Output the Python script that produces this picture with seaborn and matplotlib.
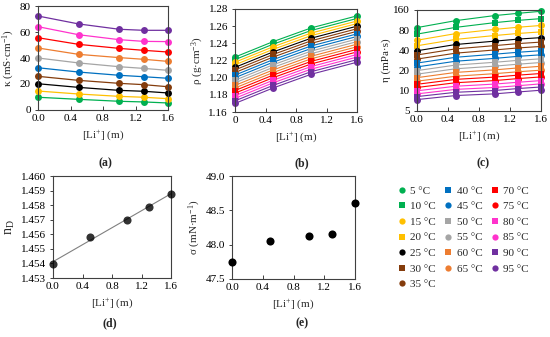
import matplotlib
matplotlib.use("Agg")
import matplotlib.pyplot as plt
import seaborn as sns
import numpy as np
import pandas as pd
from matplotlib.lines import Line2D
from matplotlib.ticker import FixedLocator, FormatStrFormatter, NullLocator, FixedFormatter

# ---------------- data ----------------
temps = [5, 10, 15, 20, 25, 30, 35, 40, 45, 50, 55, 60, 65, 70, 75, 80, 85, 90, 95]
colors = ["#00B050", "#00B050", "#FFC000", "#FFC000", "#000000", "#843C0C", "#843C0C",
          "#0070C0", "#0070C0", "#A5A5A5", "#A5A5A5", "#ED7D31", "#ED7D31", "#FF0000",
          "#FF0000", "#FF33CC", "#FF33CC", "#7030A0", "#7030A0"]
markers = ["o", "s", "o", "s", "o", "s", "o", "s", "o", "s", "o", "s", "o", "s", "o", "s", "o", "s", "o"]

# (a) conductivity, odd temperatures
li_a = [0.0, 0.5, 1.0, 1.3, 1.6]
temps_a = [5, 15, 25, 35, 45, 55, 65, 75, 85, 95]
kappa = {
    5:  [9.8, 8.2, 6.7, 6.2, 5.4],
    15: [14.6, 12.3, 10.5, 9.8, 8.7],
    25: [20.2, 17.4, 15.1, 14.4, 13.1],
    35: [25.9, 22.8, 20.5, 19.5, 17.9],
    45: [32.5, 29.2, 26.7, 25.6, 24.4],
    55: [40.0, 36.2, 33.3, 32.0, 30.5],
    65: [47.7, 42.8, 40.3, 39.0, 37.4],
    75: [55.6, 50.5, 47.4, 45.9, 44.6],
    85: [64.1, 57.9, 54.1, 52.8, 52.6],
    95: [72.3, 66.2, 62.1, 61.3, 61.3],
}

# (b) density
li_b = [0.0, 0.5, 1.0, 1.6]
rho = {
    5:  [1.224, 1.242, 1.258, 1.272],
    10: [1.221, 1.239, 1.255, 1.269],
    15: [1.218, 1.236, 1.252, 1.266],
    20: [1.215, 1.233, 1.249, 1.263],
    25: [1.212, 1.230, 1.246, 1.260],
    30: [1.209, 1.227, 1.243, 1.257],
    35: [1.206, 1.224, 1.240, 1.254],
    40: [1.203, 1.221, 1.237, 1.251],
    45: [1.200, 1.218, 1.234, 1.248],
    50: [1.197, 1.215, 1.231, 1.245],
    55: [1.194, 1.212, 1.228, 1.242],
    60: [1.191, 1.209, 1.225, 1.239],
    65: [1.188, 1.206, 1.222, 1.236],
    70: [1.185, 1.203, 1.219, 1.233],
    75: [1.182, 1.200, 1.216, 1.230],
    80: [1.179, 1.197, 1.213, 1.227],
    85: [1.176, 1.194, 1.210, 1.224],
    90: [1.173, 1.191, 1.207, 1.221],
    95: [1.170, 1.188, 1.204, 1.218],
}

# (c) viscosity
li_c = [0.0, 0.5, 1.0, 1.3, 1.6]
eta = {
    5:  [87.5, 111.1, 132.1, 142.6, 153.1],
    10: [70.0, 88.2, 103.6, 112.0, 119.0],
    15: [56.7, 71.2, 82.2, 88.5, 94.1],
    20: [46.9, 58.4, 66.6, 71.5, 75.5],
    25: [39.5, 49.0, 54.9, 58.9, 62.0],
    30: [34.2, 42.2, 47.1, 50.5, 53.2],
    35: [29.7, 36.4, 40.6, 43.5, 45.8],
    40: [25.9, 31.6, 35.1, 37.5, 39.6],
    45: [22.7, 27.6, 30.4, 32.6, 34.4],
    50: [20.0, 24.2, 26.6, 28.4, 30.0],
    55: [17.7, 21.3, 23.3, 24.9, 26.4],
    60: [15.7, 18.8, 20.5, 21.9, 23.2],
    65: [13.9, 16.5, 18.0, 19.2, 20.3],
    70: [12.5, 14.8, 16.0, 17.1, 18.1],
    75: [11.2, 13.2, 14.2, 15.2, 16.1],
    80: [10.0, 11.7, 12.6, 13.4, 14.2],
    85: [9.0, 10.5, 11.2, 11.9, 12.7],
    90: [8.2, 9.5, 10.1, 10.8, 11.4],
    95: [7.4, 8.5, 9.0, 9.6, 10.2],
}

# (d) refractive index, (e) surface tension
li_de = [0.0, 0.5, 1.0, 1.3, 1.6]
n_d = [1.45396, 1.45584, 1.45698, 1.45789, 1.45875]
sigma = [47.75, 48.06, 48.13, 48.15, 48.61]

# ---------------- style ----------------
sns.set_theme(style="ticks")
plt.rcParams["font.family"] = ["Liberation Serif", "DejaVu Serif"]
plt.rcParams["mathtext.fontset"] = "custom"
plt.rcParams["mathtext.rm"] = "Liberation Serif"
plt.rcParams["mathtext.it"] = "Liberation Serif:italic"
plt.rcParams["mathtext.bf"] = "Liberation Serif:bold"
FS = 8
SPINE = "#404040"

pal = dict(zip(temps, colors))
mk = dict(zip(temps, markers))

W, H = 550, 337
fig = plt.figure(figsize=(W / 100, H / 100), dpi=100)


def add_ax(l, r, t, b):
    return fig.add_axes([l / W, 1 - b / H, (r - l) / W, (b - t) / H])


def style_ax(ax):
    for s in ax.spines.values():
        s.set_color(SPINE)
        s.set_linewidth(0.8)
        s.set_visible(True)
    ax.tick_params(axis="both", labelsize=FS, colors=SPINE, labelcolor="black",
                   length=3, width=0.7, direction="in", pad=3)
    ax.tick_params(axis="y", direction="out", length=2)
    ax.set_facecolor("white")


def long_df(xs, d):
    rows = []
    for t, vals in d.items():
        for x, v in zip(xs, vals):
            rows.append((t, x, v))
    return pd.DataFrame(rows, columns=["T", "Li", "val"])


xlab = r"[Li$^{+}$] (m)"

# (a)
ax_a = add_ax(38, 168, 6, 110)
dfa = long_df(li_a, kappa)
sns.lineplot(data=dfa, x="Li", y="val", hue="T", palette={t: pal[t] for t in temps_a},
             marker="o", markersize=5, markeredgewidth=0, linewidth=0.9,
             estimator=None, legend=False, ax=ax_a, clip_on=False)
ax_a.set_xlim(0, 1.6)
ax_a.set_ylim(0, 80)
ax_a.xaxis.set_major_locator(FixedLocator([0, 0.4, 0.8, 1.2, 1.6]))
ax_a.xaxis.set_major_formatter(FormatStrFormatter("%.1f"))
ax_a.yaxis.set_major_locator(FixedLocator([0, 20, 40, 60, 80]))
ax_a.set_xlabel(xlab, fontsize=FS)
ax_a.set_ylabel(r"κ (mS·cm$^{-1}$)", fontsize=FS, labelpad=2)
style_ax(ax_a)

# (b)
ax_b = add_ax(235, 357, 9, 112)
dfb = long_df(li_b, rho)
sns.lineplot(data=dfb, x="Li", y="val", hue="T", style="T", palette=pal, markers=mk,
             dashes=False, markersize=5, markeredgewidth=0, linewidth=0.8,
             estimator=None, legend=False, ax=ax_b, clip_on=False)
ax_b.set_xlim(0, 1.6)
ax_b.set_ylim(1.16, 1.28)
ax_b.xaxis.set_major_locator(FixedLocator([0, 0.4, 0.8, 1.2, 1.6]))
ax_b.xaxis.set_major_formatter(FixedFormatter(["0", "0.4", "0.8", "1.2", "1.6"]))
ax_b.yaxis.set_major_locator(FixedLocator([1.16, 1.18, 1.20, 1.22, 1.24, 1.26, 1.28]))
ax_b.yaxis.set_major_formatter(FormatStrFormatter("%.2f"))
ax_b.set_xlabel(xlab, fontsize=FS)
ax_b.set_ylabel(r"ρ (g·cm$^{-3}$)", fontsize=FS, labelpad=2)
style_ax(ax_b)

# (c)
ax_c = add_ax(417, 541, 10, 111)
dfc = long_df(li_c, eta)
sns.lineplot(data=dfc, x="Li", y="val", hue="T", style="T", palette=pal, markers=mk,
             dashes=False, markersize=5, markeredgewidth=0, linewidth=0.8,
             estimator=None, legend=False, ax=ax_c, clip_on=False)
ax_c.set_yscale("log", base=2)
ax_c.set_xlim(0, 1.6)
ax_c.set_ylim(5, 160)
ax_c.xaxis.set_major_locator(FixedLocator([0, 0.4, 0.8, 1.2, 1.6]))
ax_c.xaxis.set_major_formatter(FormatStrFormatter("%.1f"))
ax_c.yaxis.set_major_locator(FixedLocator([5, 10, 20, 40, 80, 160]))
ax_c.yaxis.set_major_formatter(FormatStrFormatter("%d"))
ax_c.yaxis.set_minor_locator(NullLocator())
ax_c.set_xlabel(xlab, fontsize=FS)
ax_c.set_ylabel("η (mPa·s)", fontsize=FS, labelpad=2)
style_ax(ax_c)

# (d)
ax_d = add_ax(53, 171, 176, 278)
sns.regplot(x=li_de, y=n_d, ci=None, ax=ax_d,
            scatter_kws=dict(s=34, color="black", linewidths=0, zorder=3, clip_on=False),
            line_kws=dict(color="#808080", linewidth=0.8, zorder=2))
ax_d.set_xlim(0, 1.6)
ax_d.set_ylim(1.453, 1.460)
ax_d.xaxis.set_major_locator(FixedLocator([0, 0.4, 0.8, 1.2, 1.6]))
ax_d.xaxis.set_major_formatter(FormatStrFormatter("%.1f"))
ax_d.yaxis.set_major_locator(FixedLocator([1.453, 1.454, 1.455, 1.456, 1.457, 1.458, 1.459, 1.460]))
ax_d.yaxis.set_major_formatter(FormatStrFormatter("%.3f"))
ax_d.set_xlabel(xlab, fontsize=FS)
ax_d.set_ylabel(r"n$_{\mathrm{D}}$", fontsize=FS + 2, labelpad=3)
style_ax(ax_d)

# (e)
ax_e = add_ax(232, 355, 176, 279)
sns.scatterplot(x=li_de, y=sigma, ax=ax_e, s=34, color="black", linewidth=0, clip_on=False, zorder=3)
ax_e.set_xlim(0, 1.6)
ax_e.set_ylim(47.5, 49.0)
ax_e.xaxis.set_major_locator(FixedLocator([0, 0.4, 0.8, 1.2, 1.6]))
ax_e.xaxis.set_major_formatter(FormatStrFormatter("%.1f"))
ax_e.yaxis.set_major_locator(FixedLocator([47.5, 48.0, 48.5, 49.0]))
ax_e.yaxis.set_major_formatter(FormatStrFormatter("%.1f"))
ax_e.set_xlabel(xlab, fontsize=FS)
ax_e.set_ylabel(r"σ (mN·m$^{-1}$)", fontsize=FS, labelpad=2)
style_ax(ax_e)

# panel letters
for txt, x, y in [("(a)", 105, 163), ("(b)", 302, 163), ("(c)", 483, 163),
                  ("(d)", 110, 323), ("(e)", 302, 323)]:
    fig.text(x / W, 1 - y / H, txt, fontsize=FS + 0.5, fontweight="bold", ha="center", va="center")

# legend
handles = [Line2D([], [], linestyle="none", marker=m, color=c, markersize=4.5, markeredgewidth=0)
           for m, c in zip(markers, colors)]
labels = [f"{t} °C" for t in temps]
fig.legend(handles, labels, ncol=3, loc="upper left", bbox_to_anchor=(398 / W, 1 - 186 / H),
           frameon=False, fontsize=FS, handlelength=0.7, handletextpad=0.4,
           columnspacing=0.75, labelspacing=0.52, borderpad=0, borderaxespad=0)

fig.savefig("out.png", dpi=100, facecolor="white")
